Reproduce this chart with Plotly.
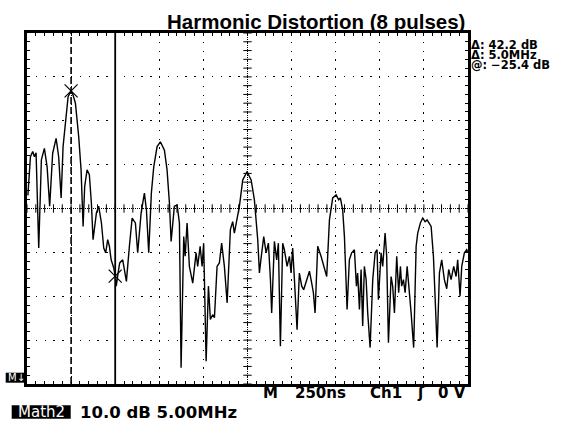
import numpy as np
import plotly.graph_objects as go

# ---- data ----
freq_mhz = [0.10, 0.39, 0.65, 0.84, 1.03, 1.33, 1.63, 1.97, 2.28, 2.57, 2.91, 3.30, 3.59, 3.87, 4.09,
            4.35, 4.66, 5.00, 5.23, 5.49, 5.86, 6.13, 6.36, 6.54, 6.81, 7.07, 7.30, 7.49, 7.87, 8.13,
            8.44, 8.70, 8.92, 9.15, 9.34, 9.54, 9.83, 10.00, 10.12, 10.33, 10.51, 10.85, 11.04, 11.27,
            11.61, 11.92, 12.29, 12.55, 12.94, 13.31, 13.54, 13.80, 14.10, 14.37, 14.75, 15.12, 15.58,
            15.88, 16.15, 16.34, 16.71, 17.02, 17.28, 17.47, 17.77, 17.93, 18.15, 18.41, 18.79, 19.17,
            19.35, 19.63, 19.85, 20.03, 20.31, 20.57, 20.79, 21.05, 21.25, 21.55, 21.81, 22.07, 22.38,
            22.69, 23.06, 23.32, 23.51, 23.82, 24.08, 24.46, 24.65, 24.95, 25.41, 25.78, 26.16, 26.35,
            26.54, 26.84, 27.11, 27.37, 27.60, 27.74, 28.05, 28.31, 28.50, 28.73, 28.99, 29.18, 29.49,
            29.75, 29.94, 30.12, 30.32, 30.62, 30.88, 31.15, 31.37, 31.76, 32.02, 32.28, 32.47, 32.66,
            32.96, 33.34, 33.72, 33.98, 34.29, 34.66, 35.05, 35.34, 35.53, 35.79, 35.99, 36.29, 36.55,
            36.81, 37.12, 37.35, 37.49, 37.69, 37.88, 38.06, 38.25, 38.45, 38.63, 38.90, 39.20, 39.47,
            39.69, 39.84, 40.15, 40.33, 40.60, 40.78, 40.98, 41.28, 41.46, 41.66, 41.92, 42.14, 42.34,
            42.48, 42.68, 42.87, 43.10, 43.36, 43.55, 43.84, 44.12, 44.30, 44.60, 44.86, 45.14, 45.36,
            45.62, 45.82, 46.08, 46.27, 46.50, 46.76, 47.02, 47.32, 47.59, 47.81, 48.08, 48.38, 48.65,
            48.83, 49.10, 49.29, 49.59, 49.85, 50.00]
level_db = [-7.0, 1.8, 3.0, 1.8, 2.7, -19.0, 1.1, 3.7, -0.5, -9.5, 2.6, 6.0, 1.8, -7.6, 4.1,
            10.2, 15.5, 16.8, 15.8, 14.0, 6.4, -1.2, -14.1, -5.0, -1.2, -2.3, -8.8, -17.1, -11.0, -9.5,
            -13.3, -19.0, -20.1, -17.1, -18.6, -21.7, -23.5, -25.4, -27.7, -24.7, -22.4, -21.7, -23.9, -26.6,
            -18.6, -12.2, -13.3, -20.1, -11.0, -6.5, -10.3, -20.1, -6.5, -0.5, 4.1, 5.2, 3.3,
            -1.2, -8.8, -17.5, -9.5, -9.2, -13.3, -46.3, -16.4, -20.9, -13.3, -23.2, -27.0, -20.1,
            -23.2, -18.6, -23.2, -17.9, -44.8, -27.7, -35.3, -34.2, -34.9, -23.2, -22.4, -17.9, -23.2,
            -31.5, -14.8, -13.0, -15.6, -12.6, -9.5, -3.5, -2.7, -1.6, -3.5, -8.0, -17.1, -24.7,
            -21.3, -16.4, -20.1, -17.9, -26.2, -33.8, -17.5, -21.7, -17.9, -41.4, -17.9, -19.4, -23.2,
            -20.9, -24.7, -19.0, -26.2, -37.6, -24.7, -27.7, -28.5, -25.8, -24.3, -27.0, -29.2, -33.8,
            -18.6, -20.9, -23.9, -25.5, -12.6, -7.6, -6.9, -8.0, -7.6, -10.3, -16.4, -33.0, -21.7,
            -20.1, -19.4, -27.7, -24.7, -33.0, -23.9, -36.8, -23.2, -26.2, -33.8, -41.7, -26.2, -20.1,
            -19.4, -30.8, -20.1, -23.2, -15.6, -20.9, -40.6, -25.5, -27.7, -33.8, -20.9, -29.2, -23.2,
            -27.7, -26.2, -29.2, -23.2, -28.5, -33.8, -41.7, -18.6, -15.6, -13.3, -12.2, -13.0, -12.6,
            -13.3, -14.1, -20.9, -29.2, -41.7, -24.7, -21.7, -26.2, -28.3, -23.9, -26.2, -23.2, -25.5,
            -21.7, -30.0, -23.2, -20.1, -19.4, -20.1]

cursor_freqs_mhz = [5.0, 10.0]
cursor_levels_db = [16.8, -25.4]

title_text = "Harmonic Distortion (8 pulses)"
scale_db_per_div = 10.0
scale_mhz_per_div = 5.00
timebase_tokens = ["M", "250ns", "Ch1", "ʃ", "0 V"]

x_range = [0, 50]
y_range = [-50, 30]
x_center = 25
y_center = -10

# ---- figure ----
fig = go.Figure()

# centre cross tick marks
xt = np.arange(x_range[0], x_range[1] + 0.01, 1.0)
yt = np.arange(y_range[0], y_range[1] + 0.01, 2.0)
fig.add_trace(go.Scatter(x=xt, y=[y_center] * len(xt), mode="markers",
                         marker=dict(symbol="line-ns", size=6, line=dict(width=1, color="black")),
                         hoverinfo="skip", showlegend=False))
fig.add_trace(go.Scatter(x=[x_center] * len(yt), y=yt, mode="markers",
                         marker=dict(symbol="line-ew", size=6, line=dict(width=1, color="black")),
                         hoverinfo="skip", showlegend=False))

# spectrum trace
fig.add_trace(go.Scatter(x=freq_mhz, y=level_db, mode="lines",
                         line=dict(color="black", width=1.4), showlegend=False))

# cursor markers
fig.add_trace(go.Scatter(x=cursor_freqs_mhz, y=cursor_levels_db, mode="markers",
                         marker=dict(symbol="x-thin", size=13, line=dict(width=1.2, color="black")),
                         showlegend=False))

shapes = [
    dict(type="line", xref="x", yref="y", x0=x_range[0], x1=x_range[1], y0=y_center, y1=y_center,
         line=dict(color="black", width=1, dash="1px,1px")),
    dict(type="line", xref="x", yref="y", x0=x_center, x1=x_center, y0=y_range[0], y1=y_range[1],
         line=dict(color="black", width=1, dash="1px,1px")),
    dict(type="line", xref="x", yref="y", x0=cursor_freqs_mhz[0], x1=cursor_freqs_mhz[0],
         y0=y_range[0], y1=y_range[1], line=dict(color="black", width=1.6, dash="7px,3px")),
    dict(type="line", xref="x", yref="y", x0=cursor_freqs_mhz[1], x1=cursor_freqs_mhz[1],
         y0=y_range[0], y1=y_range[1], line=dict(color="black", width=1.8)),
]

# pixel helpers for layout text placement (plot area 27..468 x 33..384)
L, R, T, B = 27, 468, 33, 384
def px(x):
    return (x - L) / (R - L)
def py(y):
    return (B - y) / (B - T)

# black label boxes
shapes.append(dict(type="rect", xref="paper", yref="paper", x0=px(11.7), x1=px(70.7),
                   y0=py(418.7), y1=py(405.3), fillcolor="black", line=dict(width=0)))
shapes.append(dict(type="rect", xref="paper", yref="paper", x0=px(5.7), x1=px(26),
                   y0=py(382.7), y1=py(372.7), fillcolor="black", line=dict(width=0)))

scope_font = "DejaVu Sans"
d_db = cursor_levels_db[0] - cursor_levels_db[1]
d_f = cursor_freqs_mhz[1] - cursor_freqs_mhz[0]
readouts = [
    f"Δ: {d_db:.1f} dB",
    f"Δ: {d_f:.1f}MHz",
    f"@: {cursor_levels_db[1]:.1f} dB".replace("-", "−"),
]
annotations = [
    dict(text=title_text, x=px(467), y=py(21.5), xref="paper", yref="paper",
         xanchor="right", yanchor="middle", showarrow=False,
         font=dict(family="Liberation Sans, Arial", size=20.5, color="black", weight="bold")),
]
for txt, yc in zip(readouts, [45, 55, 65]):
    annotations.append(dict(text=txt, x=px(469), y=py(yc), xref="paper", yref="paper",
                            xanchor="left", yanchor="middle", showarrow=False,
                            font=dict(family=scope_font, size=11.5, color="black", weight="bold")))
for txt, xc in zip(timebase_tokens, [270, 320.3, 385.5, 420.5, 451.5]):
    annotations.append(dict(text=txt, x=px(xc), y=py(392.5), xref="paper", yref="paper",
                            xanchor="center", yanchor="middle", showarrow=False,
                            font=dict(family=scope_font, size=15, color="black", weight="bold")))
annotations.append(dict(text="Math2", x=px(41.2), y=py(412), xref="paper", yref="paper",
                        xanchor="center", yanchor="middle", showarrow=False,
                        font=dict(family=scope_font, size=15, color="white")))
annotations.append(dict(text=f"{scale_db_per_div:.1f} dB {scale_mhz_per_div:.2f}MHz",
                        x=px(78), y=py(412), xref="paper", yref="paper",
                        xanchor="left", yanchor="middle", showarrow=False,
                        font=dict(family=scope_font, size=16.5, color="black", weight="bold")))
annotations.append(dict(text="M↓", x=px(16), y=py(377.7), xref="paper", yref="paper",
                        xanchor="center", yanchor="middle", showarrow=False,
                        font=dict(family=scope_font, size=10, color="white")))

axis_common = dict(showticklabels=False, ticks="inside", ticklen=3, tickwidth=1, tickcolor="black",
                   showline=True, linewidth=2.5, linecolor="black", mirror="ticks",
                   showgrid=True, gridcolor="black", gridwidth=1.4, griddash="1.4px,7.4px",
                   zeroline=False, fixedrange=True)
fig.update_layout(
    width=563, height=422,
    margin=dict(l=L, r=563 - R, t=T, b=422 - B, pad=0),
    paper_bgcolor="white", plot_bgcolor="white",
    xaxis=dict(range=x_range, dtick=5, tick0=0,
               minor=dict(dtick=1, tick0=0, ticks="inside", ticklen=3, tickcolor="black", showgrid=False),
               **axis_common),
    yaxis=dict(range=y_range, dtick=10, tick0=-50,
               minor=dict(dtick=2, tick0=-50, ticks="inside", ticklen=3, tickcolor="black", showgrid=False),
               **axis_common),
    shapes=shapes,
    annotations=annotations,
    showlegend=False,
)

fig.write_html("out.html", config={"displayModeBar": False},
               post_script="document.body.style.margin='0';document.body.style.overflow='hidden';")
